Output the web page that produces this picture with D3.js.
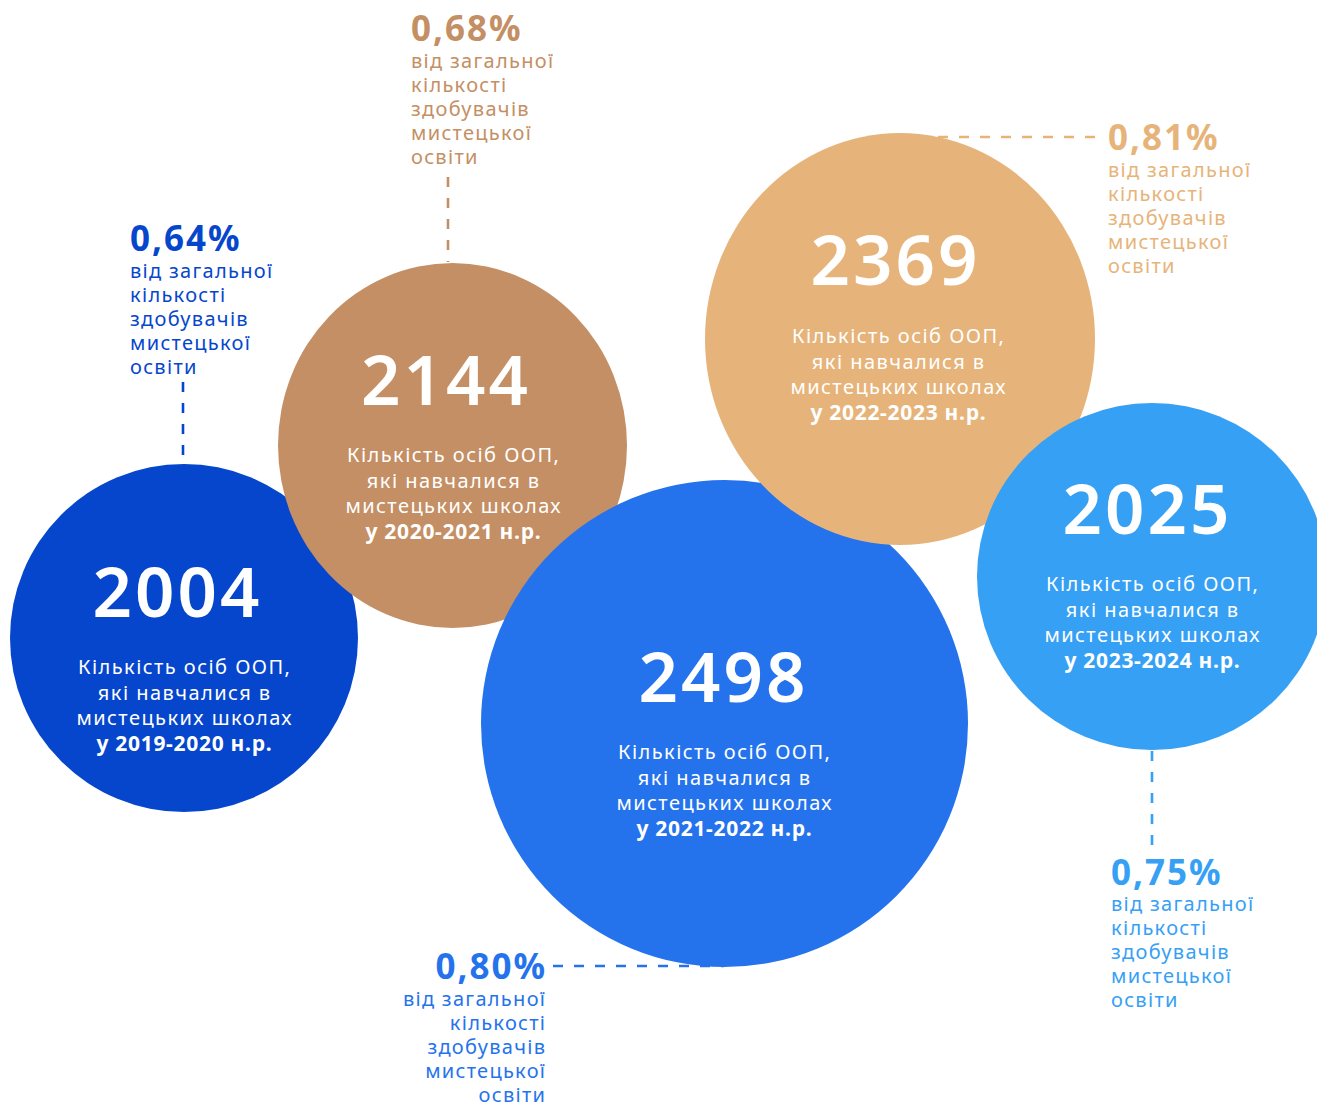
<!DOCTYPE html>
<html>
<head>
<meta charset="utf-8">
<script src="https://cdn.jsdelivr.net/npm/d3@7"></script>
<style>
  body { margin: 0; background: #fff; }
  svg { display: block; font-family: "Noto Sans", sans-serif; }
</style>
</head>
<body>
<script>
// values
const years = ["2019-2020", "2020-2021", "2021-2022", "2022-2023", "2023-2024"];
const counts = [2004, 2144, 2498, 2369, 2025];
const shares = ["0,64%", "0,68%", "0,80%", "0,81%", "0,75%"];
const descLines = ["Кількість осіб ООП,", "які навчалися в", "мистецьких школах"];
const shareLines = ["від загальної", "кількості", "здобувачів", "мистецької", "освіти"];

const colors = ["#0646cc", "#c48f64", "#2573ec", "#e6b47a", "#36a0f5"];

// bubble placement (infographic layout, not data)
const layout = [
  {cx: 184,   cy: 638,   rx: 174,   ry: 174,   tx: 184,  nx: 176,   numY: 617, textY: 674},
  {cx: 452.5, cy: 445.5, rx: 174.5, ry: 182.5, tx: 453,  nx: 444.5, numY: 405, textY: 462},
  {cx: 724.5, cy: 723.5, rx: 243.5, ry: 243.5, tx: 724,  nx: 722,   numY: 702, textY: 759},
  {cx: 900,   cy: 339,   rx: 195,   ry: 206,   tx: 898,  nx: 894,   numY: 285, textY: 343},
  {cx: 1152,  cy: 576.5, rx: 175,   ry: 173.5, tx: 1152, nx: 1146,  numY: 534, textY: 591}
];
// share callouts
const callouts = [
  {x: 130,  anchor: "start", pctY: 251, lineY: 278, l: [183, 382, 183, 463]},
  {x: 411,  anchor: "start", pctY: 41,  lineY: 68,  l: [448, 177, 448, 262]},
  {x: 545,  anchor: "end",   pctY: 979, lineY: 1006, l: [553, 966, 724, 966]},
  {x: 1108, anchor: "start", pctY: 150, lineY: 177, l: [1095, 137, 900, 137]},
  {x: 1111, anchor: "start", pctY: 885, lineY: 911, l: [1152, 845, 1152, 576]}
];

const width = 1317, height = 1104;
const numLs = 3, pctLs = 2, shareLs = 1.3;

const svg = d3.select("body").append("svg")
  .attr("width", width)
  .attr("height", height);

const data = counts.map((c, i) => ({
  count: c, year: years[i], share: shares[i], color: colors[i],
  pos: layout[i], call: callouts[i]
}));

// dashed leader lines go under the bubbles
svg.append("g").selectAll("line")
  .data(data)
  .join("line")
  .attr("x1", d => d.call.l[0])
  .attr("y1", d => d.call.l[1])
  .attr("x2", d => d.call.l[2])
  .attr("y2", d => d.call.l[3])
  .attr("stroke", d => d.color)
  .attr("stroke-width", 2.6)
  .attr("stroke-dasharray", "10,11");

// bubbles
const bubble = svg.append("g").selectAll("g")
  .data(data)
  .join("g");

bubble.append("ellipse")
  .attr("cx", d => d.pos.cx)
  .attr("cy", d => d.pos.cy)
  .attr("rx", d => d.pos.rx)
  .attr("ry", d => d.pos.ry)
  .attr("fill", d => d.color);

bubble.append("text")
  .attr("x", d => d.pos.nx + numLs / 2)
  .attr("y", d => d.pos.numY)
  .attr("text-anchor", "middle")
  .attr("fill", "#fff")
  .attr("font-size", 69)
  .attr("font-weight", 600)
  .attr("letter-spacing", numLs)
  .text(d => d.count);

bubble.each(function(d) {
  const g = d3.select(this);
  const lines = descLines.concat(["у " + d.year + " н.р."]);
  lines.forEach((t, k) => {
    const ls = k === 3 ? 0.7 : 1.45;
    g.append("text")
      .attr("x", d.pos.tx + ls / 2)
      .attr("y", d.pos.textY + k * 25.6)
      .attr("text-anchor", "middle")
      .attr("fill", "#fff")
      .attr("font-size", k === 3 ? 21 : 20)
      .attr("font-weight", k === 3 ? 700 : 400)
      .attr("letter-spacing", ls)
      .text(t);
  });
});

// share labels
const label = svg.append("g").selectAll("g")
  .data(data)
  .join("g");

label.append("text")
  .attr("x", d => d.call.anchor === "end" ? d.call.x + pctLs : d.call.x)
  .attr("y", d => d.call.pctY)
  .attr("text-anchor", d => d.call.anchor)
  .attr("fill", d => d.color)
  .attr("font-size", 35)
  .attr("font-weight", 700)
  .attr("letter-spacing", pctLs)
  .text(d => d.share);

label.each(function(d) {
  const g = d3.select(this);
  shareLines.forEach((t, k) => {
    g.append("text")
      .attr("x", d.call.anchor === "end" ? d.call.x + shareLs : d.call.x)
      .attr("y", d.call.lineY + k * 24)
      .attr("text-anchor", d.call.anchor)
      .attr("fill", d.color)
      .attr("font-size", 20)
      .attr("letter-spacing", shareLs)
      .text(t);
  });
});
</script>
</body>
</html>
